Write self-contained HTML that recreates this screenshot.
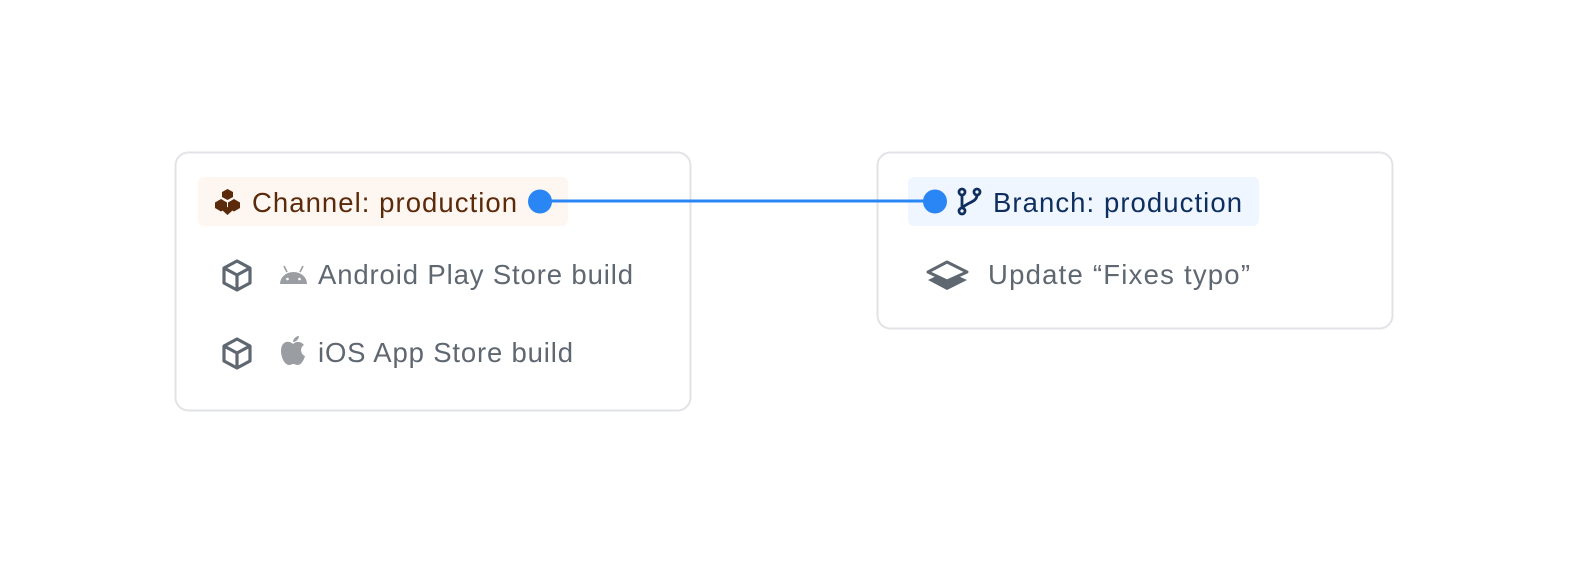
<!DOCTYPE html>
<html><head><style>
html,body{margin:0;padding:0;background:#fff;width:1572px;height:564px;overflow:hidden}
svg{display:block}
text{font-family:"Liberation Sans",sans-serif;font-size:27.5px}
</style></head><body>
<svg width="1572" height="564" viewBox="0 0 1572 564" xmlns="http://www.w3.org/2000/svg">
<rect x="175.5" y="152.5" width="515" height="258" rx="13" fill="#fff" stroke="#e1e3e6" stroke-width="2"/>
<rect x="877.5" y="152.5" width="515" height="176" rx="13" fill="#fff" stroke="#e1e3e6" stroke-width="2"/>
<rect x="198" y="177" width="370" height="49" rx="6" fill="#fdf6f1"/>
<rect x="908" y="177" width="351" height="49" rx="6" fill="#eff6ff"/>
<!-- channel icon -->
<g fill="#5b2a0b">
<polygon points="227.5,189 233,192 233,197 227.5,200 222,197 222,192"/>
<polygon points="221,199 227,202.5 227,208 221,211.5 215,208 215,202.5"/>
<polygon points="234,199 240,202.5 240,208 234,211.5 228,208 228,202.5"/>
<polygon points="227.5,207 233,210 227.5,215 222,210"/>
</g>
<text x="252" y="212" fill="#5b2a0b" textLength="265">Channel: production</text>
<!-- cubes -->
<g fill="none" stroke="#5f6771" stroke-width="3.2" stroke-linejoin="round">
<path d="M237 261 L250 268 L250 283 L237 290 L224 283 L224 268 Z M224 268 L237 275 L250 268 M237 275 L237 290"/>
<path d="M237 339 L250 346 L250 361 L237 368 L224 361 L224 346 Z M224 346 L237 353 L250 346 M237 353 L237 368"/>
</g>
<!-- android -->
<g fill="#9a9da2">
<path d="M280 284 A13.5 12 0 0 1 307 284 Z"/>
<line x1="284" y1="266" x2="287" y2="272" stroke="#9a9da2" stroke-width="1.6"/>
<line x1="303" y1="266" x2="300" y2="272" stroke="#9a9da2" stroke-width="1.6"/>
<circle cx="287.5" cy="279" r="1.3" fill="#fff"/><circle cx="299.5" cy="279" r="1.3" fill="#fff"/>
</g>
<!-- apple -->
<g fill="#9a9da2">
<path d="M293 344 C289 340 281 341 281 351 C281 358 285 365 289 365 C291 365 292 364 293 364 C295 364 296 365 298 365 C301 365 304 360 305 356 C300 354 300 347 304 345 C301 341 296 341 293 344 Z"/>
<path d="M293 342 C293 339 296 336 299 336 C299 339 296 342 293 342 Z"/>
</g>
<text x="318" y="284" fill="#5f6771" textLength="315">Android Play Store build</text>
<text x="318" y="362" fill="#5f6771" textLength="255">iOS App Store build</text>
<!-- connector -->
<line x1="540" y1="201" x2="935" y2="201" stroke="#2a86f4" stroke-width="3"/>
<circle cx="540" cy="201.5" r="12" fill="#2a86f4"/>
<circle cx="935" cy="201.5" r="12" fill="#2a86f4"/>
<!-- branch icon -->
<g fill="none" stroke="#0e2e5e" stroke-width="2.8">
<circle cx="962" cy="192" r="3"/><circle cx="962" cy="211" r="3"/><circle cx="977" cy="192" r="3"/>
<path d="M962 195 L962 208 M977 195 C977 202 968 202 962 208"/>
</g>
<text x="993" y="212" fill="#0e2e5e" textLength="249">Branch: production</text>
<!-- layers -->
<g fill="#5f6771">
<polygon points="947,271 967,280 947,290 928,280"/>
<polygon points="947,262 967,272 947,281 928,272" fill="#fff" stroke="#5f6771" stroke-width="3" stroke-linejoin="round"/>
</g>
<text x="988" y="284" fill="#5f6771" textLength="262">Update “Fixes typo”</text>
</svg>
</body></html>
